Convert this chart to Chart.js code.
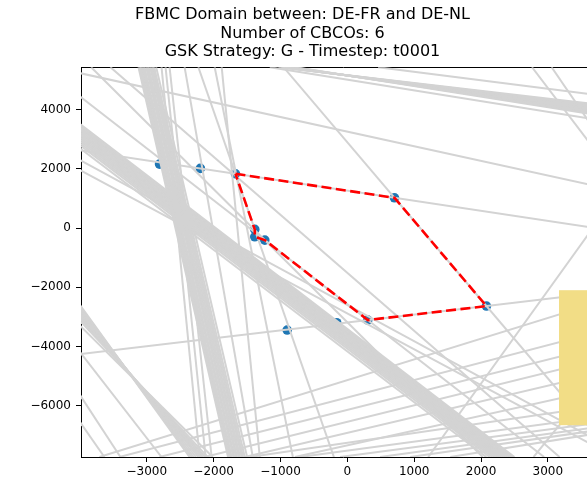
<!DOCTYPE html>
<html>
<head>
<meta charset="utf-8">
<script src="https://cdn.jsdelivr.net/npm/chart.js@4"></script>
<style>
  html, body { margin: 0; padding: 0; background: #fff; overflow: hidden; }
  #wrap { width: 587px; height: 484px; overflow: hidden; }
  canvas { display: block; }
</style>
</head>
<body>
<div id="wrap"><canvas id="grafica" width="686" height="484"></canvas></div>
<script>
// titulo de la grafica
const titulo = [
  "FBMC Domain between: DE-FR and DE-NL",
  "Number of CBCOs: 6",
  "GSK Strategy: G - Timestep: t0001"
];

// ticks de los ejes (DE-FR en x, DE-NL en y)
const ticksX = [-3000, -2000, -1000, 0, 1000, 2000, 3000];
const ticksY = [-6000, -4000, -2000, 0, 2000, 4000];

// vertices del dominio FBMC (linea roja)
const dominioX = [-1674, 705, 2081, 306, -1235, -1385, -1385, -1674];
const dominioY = [1835, 1024, -2636, -3110, -406, -294, -44, 1835];

// puntos de interseccion (azul)
const puntosX = [-2810, -2199, -1674, -1385, -1385, -1235, 705, 2081, 306, -159, -900];
const puntosY = [2163, 2018, 1835, -44, -294, -406, 1024, -2636, -3110, -3201, -3448];

// lineas CBCO: [x1, y1, x2, y2]
const lineasCBCO = [
  // haz casi vertical
  [-3125, 5440, -1785, -7740],
  [-3105, 5440, -1765, -7740],
  [-3090, 5440, -1745, -7740],
  [-3070, 5440, -1730, -7740],
  [-3050, 5440, -1705, -7740],
  [-3035, 5440, -1690, -7740],
  [-3010, 5440, -1665, -7740],
  [-2990, 5440, -1650, -7740],
  [-2975, 5440, -1625, -7740],
  [-2950, 5440, -1605, -7740],
  [-2930, 5440, -1580, -7740],
  [-2910, 5440, -1560, -7740],
  [-2890, 5440, -1535, -7740],
  [-2860, 5440, -1500, -7740],
  [-2780, 5440, -2210, -7740],
  [-2720, 5440, -2120, -7740],
  [-2660, 5440, -2030, -7740],
  [-2435, 5440, -1415, -7740],
  [-2229, 5440, -201, -7740],
  [-1985, 5440, -815, -7740],
  [-1880, 5440, -1310, -7740],
  // lados del dominio
  [-955, 5440, 4000, -7740],
  [-4000, -4260, 3900, -2150],
  [-4000, 2628, 3900, -66],
  [-4000, 4447, 2944, -7740],
  [-3833, 5440, 2025, -7740],
  // haz diagonal superior izquierdo
  [-4000, 3520, 2500, -7740],
  [-4000, 3460, 2475, -7740],
  [-4000, 3400, 2445, -7740],
  [-4000, 3350, 2420, -7740],
  [-4000, 3290, 2390, -7740],
  [-4000, 3230, 2360, -7740],
  [-4000, 3180, 2330, -7740],
  [-4000, 3120, 2300, -7740],
  [-4000, 3060, 2270, -7740],
  [-4000, 3000, 2240, -7740],
  [-4000, 2940, 2205, -7740],
  [-4000, 2870, 2170, -7740],
  [-4000, 2800, 2130, -7740],
  [-4000, 2700, 2080, -7740],
  [-4000, 2298, 3866, -7335],
  [-4000, 1960, 3866, -7571],
  // haz inferior izquierdo
  [-4000, -2600, -2360, -7740],
  [-4000, -2660, -2330, -7740],
  [-4000, -2720, -2300, -7740],
  [-4000, -2790, -2265, -7740],
  [-4000, -2850, -2230, -7740],
  [-4000, -2910, -2200, -7740],
  [-4000, -2980, -2165, -7740],
  [-4000, -3050, -2130, -7740],
  [-4000, -3130, -2090, -7740],
  [-4000, -3300, -2015, -7740],
  [-4000, -4191, -2780, -7740],
  [-4000, -5645, -3395, -7740],
  [-4000, -6557, -3635, -7740],
  // arriba
  [-4000, 5239, 3866, 1352],
  [-3545, 5440, 3175, -7740],
  [-1030, 5440, 3866, 4150],
  [-1000, 5440, 3866, 4110],
  [-975, 5440, 3866, 4070],
  [-950, 5440, 3866, 4030],
  [-920, 5440, 3866, 3990],
  [-895, 5440, 3866, 3950],
  [-865, 5440, 3866, 3910],
  [-840, 5440, 3866, 3870],
  [-810, 5440, 3866, 3830],
  [-780, 5440, 3866, 3780],
  [-1160, 5440, 3866, 3617],
  [460, 5440, 3866, 4462],
  [2763, 5440, 3866, 2163],
  [3056, 5440, 3866, 2772],
  // derecha
  [3866, 608, 1210, -7740],
  [3866, -4732, 2786, -7740],
  // abajo
  [-3710, -7740, 3866, -2434],
  [-3410, -7740, 3866, -3448],
  [-2810, -7740, 3866, -3955],
  [-2135, -7740, 3866, -4394],
  [-1535, -7740, 3866, -4867],
  [-785, -7740, 3866, -5408],
  [-1460, -7740, 3866, -5983],
  [-710, -7740, 3866, -6354],
  [-110, -7740, 3866, -6557],
  [490, -7740, 3866, -6692],
  [940, -7740, 3866, -6794],
  [1540, -7740, 3866, -6895]
];

const fuente = { family: "DejaVu Sans", size: 12 };
const menos = (v) => String(v).replace("-", "\u2212");

// cada linea CBCO es un dataset de dos puntos
const datasetsLineas = lineasCBCO.map((l) => ({
  data: [{ x: l[0], y: l[1] }, { x: l[2], y: l[3] }],
  showLine: true,
  borderColor: "#d3d3d3",
  borderWidth: 2,
  pointRadius: 0,
  clip: 0,
  order: 1
}));

// caja amarilla de la leyenda (cortada en el borde derecho)
const cajaLeyenda = {
  id: "cajaLeyenda",
  afterDatasetsDraw(chart) {
    const a = chart.chartArea;
    const c = chart.ctx;
    c.save();
    c.fillStyle = "rgb(242,221,134)";
    c.fillRect(a.left + 478, a.top + 223, 200, 135);
    c.restore();
  }
};

const ctx = document.getElementById("grafica").getContext("2d");
new Chart(ctx, {
  type: "scatter",
  data: {
    datasets: [
      {
        data: dominioX.map((x, i) => ({ x: x, y: dominioY[i] })),
        showLine: true,
        borderColor: "red",
        borderWidth: 2.6,
        borderDash: [10, 4.5],
        pointRadius: 0,
        order: 0
      },
      ...datasetsLineas,
      {
        data: puntosX.map((x, i) => ({ x: x, y: puntosY[i] })),
        backgroundColor: "#1f77b4",
        borderColor: "#1f77b4",
        pointRadius: 4.8,
        borderWidth: 0,
        order: 2
      }
    ]
  },
  options: {
    responsive: false,
    animation: false,
    layout: { padding: { left: 0, right: 81, top: 0, bottom: 0 } },
    plugins: {
      legend: { display: false },
      tooltip: { enabled: false },
      title: {
        display: true,
        text: titulo,
        color: "#000",
        font: { family: "DejaVu Sans", size: 16, weight: "normal", lineHeight: 1.15 },
        padding: { top: 6, bottom: 6 }
      }
    },
    scales: {
      x: {
        type: "linear",
        position: "bottom",
        min: -3985,
        max: 3855,
        afterBuildTicks: (s) => { s.ticks = ticksX.map((v) => ({ value: v })); },
        afterFit: (s) => { s.height = 27; },
        ticks: { callback: menos, font: fuente, color: "#000", padding: 3, maxRotation: 0, autoSkip: false },
        grid: { drawOnChartArea: false, tickLength: 5, tickColor: "#000", tickWidth: 1 },
        border: { color: "#000", width: 1 }
      },
      xTop: {
        type: "linear",
        position: "top",
        min: -3985,
        max: 3855,
        afterFit: (s) => { s.height = 0; },
        ticks: { display: false },
        grid: { display: false },
        border: { color: "#000", width: 1 }
      },
      y: {
        type: "linear",
        min: -7740,
        max: 5440,
        afterBuildTicks: (s) => { s.ticks = ticksY.map((v) => ({ value: v })); },
        afterFit: (s) => { s.width = 81; },
        ticks: { callback: menos, font: fuente, color: "#000", padding: 5, autoSkip: false },
        grid: { drawOnChartArea: false, tickLength: 5, tickColor: "#000", tickWidth: 1 },
        border: { color: "#000", width: 1 }
      }
    }
  },
  plugins: [cajaLeyenda]
});
</script>
</body>
</html>
